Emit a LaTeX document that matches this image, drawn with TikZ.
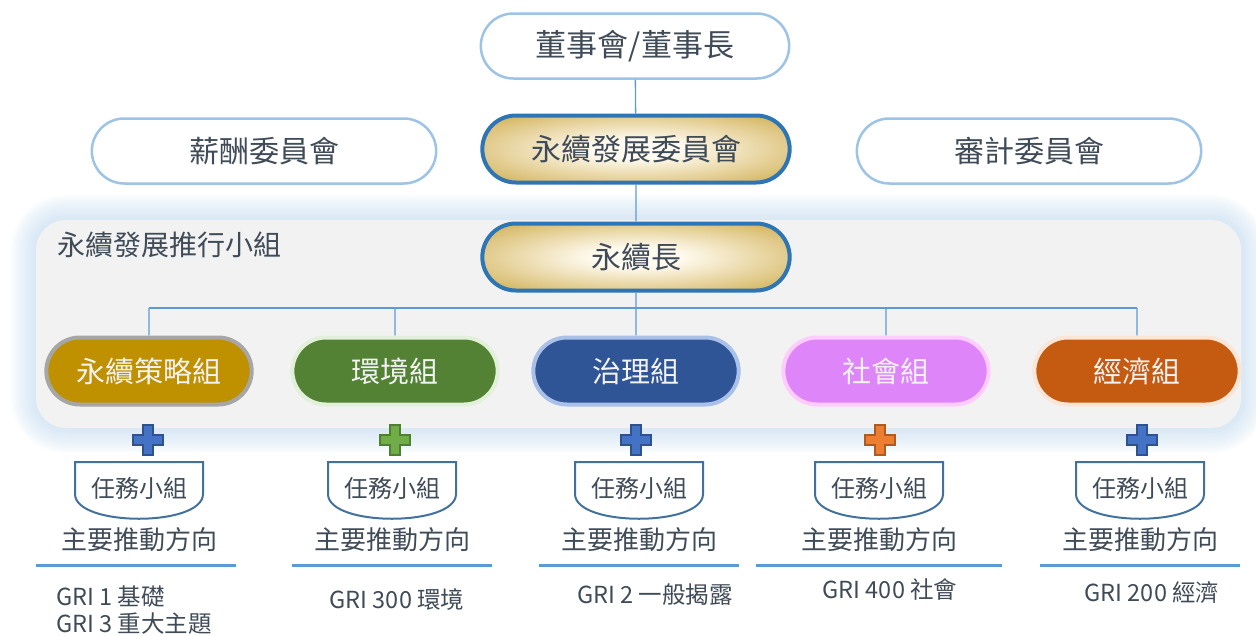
\documentclass[tikz,border=0pt]{standalone}
\usepackage{fontspec}
\setmainfont{Noto Sans CJK TC}
\usepackage{tikz}
\usetikzlibrary{positioning,shapes.misc}
\definecolor{txtgrey}{HTML}{404B58}
\definecolor{pillblue}{HTML}{9DC3E6}
\definecolor{goldedge}{HTML}{2E75B6}
\definecolor{golddark}{HTML}{BF9000}
\definecolor{goldmid}{HTML}{DCC27A}
\definecolor{goldlight}{HTML}{FFFBF0}
\definecolor{panelgrey}{HTML}{F2F2F2}
\definecolor{glowblue}{HTML}{BDD7EE}
\definecolor{linkblue}{HTML}{5B9BD5}
\definecolor{taskblue}{HTML}{41719C}
\definecolor{stratfill}{HTML}{BF9000}
\definecolor{stratedge}{HTML}{A6A6A6}
\definecolor{envfill}{HTML}{548235}
\definecolor{envedge}{HTML}{E2F0D9}
\definecolor{govfill}{HTML}{2F5597}
\definecolor{govedge}{HTML}{A9C0E8}
\definecolor{socfill}{HTML}{DF85FA}
\definecolor{socedge}{HTML}{FFCCFF}
\definecolor{ecofill}{HTML}{C55A11}
\definecolor{ecoedge}{HTML}{FBE5D6}
\definecolor{plusblue}{HTML}{4472C4}
\definecolor{plusblueedge}{HTML}{2F528F}
\definecolor{plusgreen}{HTML}{70AD47}
\definecolor{plusgreenedge}{HTML}{507E32}
\definecolor{plusorange}{HTML}{ED7D31}
\definecolor{plusorangeedge}{HTML}{AE5A21}
\pgfdeclareradialshading{goldglow}{\pgfpoint{0bp}{0bp}}{color(0bp)=(goldlight);
  color(7bp)=(goldlight); color(28bp)=(goldmid); color(45bp)=(golddark); color(50bp)=(golddark)}

\begin{document}
\begin{tikzpicture}[x=1pt,y=1pt,
  topnode/.style={rounded rectangle,draw=pillblue,line width=2.5pt,fill=white,text=txtgrey,
                  minimum width=351pt,minimum height=65pt,font=\fontsize{30}{34}\selectfont},
  goldnode/.style={rounded rectangle,draw=goldedge,line width=4pt,shading=goldglow,
                   text=txtgrey,minimum width=314pt,minimum height=67pt,
                   font=\fontsize{30}{34}\selectfont},
  grouppill/.style={rounded rectangle,line width=4pt,text=white!95!black,minimum width=212pt,
                    minimum height=67pt,font=\fontsize{29}{33}\selectfont},
  link/.style={draw=linkblue,line width=1.3pt},
  taskline/.style={draw=taskblue,line width=2pt},
  plain/.style={inner sep=0pt,text=txtgrey},
  rule/.style={draw=linkblue,line width=3pt},
  gri/.style={plain,font=\fontsize{23.5}{27}\selectfont}]
\useasboundingbox (0,0) rectangle (1256,-635);

% panel with soft glow
\foreach \k [evaluate=\k as \rc using 30+2.5*\k] in {1,...,10}
  \fill[glowblue,opacity=0.08,rounded corners=\rc pt]
    (36-2.5*\k,-220+2.5*\k) rectangle (1241+2.5*\k,-428-2.5*\k);
\fill[panelgrey,rounded corners=30pt] (36,-220) rectangle (1241,-428);
\node[plain,anchor=west,font=\fontsize{28}{32}\selectfont] (teamlabel) at (57,-245) {永續發展推行小組};

\node[topnode,minimum width=315pt,font=\fontsize{31}{35}\selectfont] (board) at (635,-46) {董事會/董事長};
\node[topnode] (pay) at (264,-151) {薪酬委員會};
\node[topnode] (audit) at (1029,-151) {審計委員會};
\node[goldnode] (esg) at (636,-149) {永續發展委員會};
\node[goldnode] (cso) at (636,-257) {永續長};

\foreach \gx/\gname/\gfill/\gedge/\glabel in
  {149/g1/stratfill/stratedge/永續策略組, 395/g2/envfill/envedge/環境組,
   636/g3/govfill/govedge/治理組, 886/g4/socfill/socedge/社會組,
   1137/g5/ecofill/ecoedge/經濟組}
  \node[grouppill,fill=\gfill,draw=\gedge] (\gname) at (\gx,-371) {\glabel};

\coordinate (bus) at (636,-308);
\draw[link] (board) -- (esg);
\draw[link] (esg) -- (cso);
\draw[link] (cso) -- (bus);
\draw[link] (g1.north |- bus) -- (g5.north |- bus);
\foreach \g in {g1,g2,g3,g4,g5}
  \draw[link] (\g.north |- bus) -- (\g);

% plus marks
\foreach \px/\pfill/\pedge in {148/plusblue/plusblueedge, 395/plusgreen/plusgreenedge,
    636/plusblue/plusblueedge, 880/plusorange/plusorangeedge, 1142/plusblue/plusblueedge}
  \draw[fill=\pfill,draw=\pedge,line width=1.2pt]
    (\px-5,-425) -- (\px+5,-425) -- (\px+5,-435) -- (\px+15,-435) -- (\px+15,-445)
    -- (\px+5,-445) -- (\px+5,-455) -- (\px-5,-455) -- (\px-5,-445) -- (\px-15,-445)
    -- (\px-15,-435) -- (\px-5,-435) -- cycle;

% task groups
\foreach \tx [count=\i] in {139,392,639,879,1140} {
  \draw[taskline] (\tx-64,-462) -- (\tx-64,-494) .. controls (\tx-64,-527) and (\tx+64,-527)
    .. (\tx+64,-494) -- (\tx+64,-462) -- cycle;
  \node[plain,font=\fontsize{24}{28}\selectfont] (task\i) at (\tx,-488) {任務小組};
  \node[plain,font=\fontsize{26}{30}\selectfont] (dir\i) at (\tx,-540) {主要推動方向};
}
\foreach \la/\lb in {36/236, 292/492, 539/739, 756/1002, 1040/1240}
  \draw[rule] (\la,-565) -- (\lb,-565);

\node[gri,anchor=west] (gri1) at (56,-597) {GRI 1 基礎};
\node[gri,anchor=west] (gri3) at (56,-624) {GRI 3 重大主題};
\node[gri] (gri300) at (397,-600) {GRI 300 環境};
\node[gri] (gri2) at (655,-595) {GRI 2 一般揭露};
\node[gri] (gri400) at (890,-590) {GRI 400 社會};
\node[gri] (gri200) at (1152,-592) {GRI 200 經濟};
\end{tikzpicture}
\end{document}
